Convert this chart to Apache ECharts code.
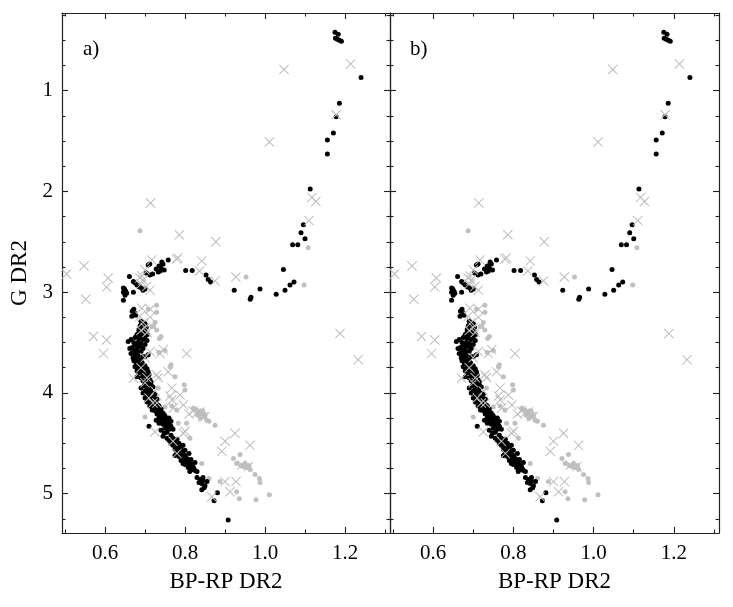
<!DOCTYPE html>
<html>
<head>
<meta charset="utf-8">
<script src="https://cdn.jsdelivr.net/npm/echarts@6/dist/echarts.min.js"></script>
<style>
  html, body { margin: 0; padding: 0; background: #fff; }
  #main { width: 733px; height: 607px; }
</style>
</head>
<body>
<div id="main"></div>
<script>
// axis ranges and ticks
var xMin = 0.4925, xMax = 1.3125;
var yMin = 0.23, yMax = 5.39;
var xMajor = [0.6, 0.8, 1.0, 1.2];
var xMinor = [0.5, 0.7, 0.9, 1.1, 1.3];
var yMajor = [1, 2, 3, 4, 5];
var yMinor = [0.25, 0.5, 0.75, 1.25, 1.5, 1.75, 2.25, 2.5, 2.75, 3.25, 3.5, 3.75, 4.25, 4.5, 4.75, 5.25];

// black dots: [BP-RP, G]
var blackStars = [
  [1.175,0.42],[1.183,0.44],[1.176,0.48],[1.181,0.49],[1.186,0.50],[1.191,0.51],
  [1.240,0.87],[1.186,1.125],[1.178,1.26],[1.171,1.42],[1.156,1.49],[1.156,1.63],
  [1.113,1.976],[1.096,2.33],[1.090,2.41],[1.100,2.47],[1.069,2.53],[1.082,2.53],
  [1.046,2.775],[1.0725,2.90],[1.0625,2.93],[1.050,2.98],[1.028,3.02],[0.9875,2.97],
  [0.965,3.05],[0.963,3.07],[0.923,2.98],[0.864,2.90],[0.858,2.875],[0.8525,2.83],
  [0.818,2.785],[0.8017,2.785],[0.758,2.68],
  [0.745,2.72],[0.742,2.70],[0.735,2.74],[0.74,2.76],[0.748,2.78],[0.733,2.80],[0.738,2.79],[0.728,2.77],
  [0.708,2.73],[0.712,2.72],[0.703,2.81],[0.712,2.83],[0.719,2.82],[0.661,2.845],
  [0.671,2.895],[0.675,2.91],[0.68,2.93],[0.686,2.95],[0.692,2.96],[0.695,2.98],[0.70,2.97],
  [0.646,2.96],[0.649,2.97],[0.652,2.99],[0.646,3.0],[0.654,3.01],[0.65,3.03],[0.646,3.08],[0.671,3.0],
  [0.671,3.18],[0.675,3.21],[0.667,3.24],[0.677,3.23],[0.672,3.17],[0.668,3.19],
  [0.69,3.29],[0.695,3.30],[0.70,3.31],[0.688,3.33],[0.697,3.34],[0.703,3.35],[0.692,3.36],[0.70,3.38],[0.685,3.39],[0.695,3.40],
  [0.695,3.32],[0.685,3.37],[0.705,3.42],
  [0.68,3.42],[0.69,3.43],[0.70,3.44],[0.675,3.45],[0.685,3.46],[0.695,3.47],[0.658,3.49],[0.672,3.50],[0.682,3.50],
  [0.665,3.47],[0.675,3.52],[0.705,3.48],[0.662,3.56],
  [0.69,3.51],[0.70,3.52],[0.678,3.53],[0.688,3.54],[0.668,3.55],[0.695,3.56],[0.68,3.57],[0.672,3.58],[0.69,3.59],
  [0.665,3.61],[0.675,3.62],[0.683,3.63],[0.67,3.65],[0.68,3.66],[0.688,3.67],[0.672,3.68],[0.684,3.69],[0.693,3.70],
  [0.68,3.60],[0.695,3.64],[0.69,3.69],[0.708,3.62],[0.70,3.64],
  [0.678,3.71],[0.69,3.72],[0.70,3.73],[0.682,3.74],[0.695,3.75],[0.705,3.76],[0.688,3.77],[0.698,3.78],[0.708,3.79],[0.685,3.80],
  [0.675,3.74],[0.68,3.78],[0.71,3.82],[0.68,3.84],
  [0.695,3.81],[0.70,3.83],[0.69,3.85],[0.705,3.86],[0.712,3.87],[0.695,3.88],[0.70,3.90],[0.71,3.91],[0.715,3.92],
  [0.715,3.89],[0.69,3.95],[0.72,3.94],[0.695,4.0],[0.725,4.01],
  [0.698,3.93],[0.705,3.95],[0.714,3.96],[0.70,3.98],[0.71,3.99],[0.718,4.00],
  [0.705,4.02],[0.715,4.03],[0.722,4.04],[0.71,4.06],[0.72,4.07],[0.728,4.08],[0.715,4.10],[0.725,4.11],[0.732,4.12],
  [0.70,4.05],[0.73,4.06],[0.705,4.09],[0.735,4.13],[0.712,4.13],
  [0.72,4.14],[0.73,4.15],[0.74,4.16],[0.718,4.17],[0.726,4.18],[0.735,4.19],[0.745,4.20],
  [0.73,4.21],[0.74,4.22],[0.75,4.23],[0.735,4.24],[0.745,4.25],[0.755,4.26],[0.728,4.27],[0.74,4.28],[0.75,4.29],
  [0.748,4.22],[0.76,4.25],[0.738,4.26],[0.765,4.28],[0.735,4.30],
  [0.76,4.30],[0.745,4.31],[0.755,4.32],[0.71,4.33],[0.765,4.33],[0.75,4.35],[0.76,4.36],[0.74,4.37],[0.755,4.39],
  [0.77,4.36],[0.748,4.40],[0.78,4.46],[0.755,4.45],
  [0.745,4.43],[0.765,4.42],[0.77,4.45],[0.76,4.47],[0.775,4.49],[0.785,4.50],[0.77,4.52],[0.78,4.53],[0.79,4.54],
  [0.795,4.52],[0.765,4.50],[0.80,4.57],[0.81,4.60],[0.775,4.62],
  [0.775,4.56],[0.785,4.57],[0.795,4.58],[0.78,4.59],[0.79,4.61],[0.80,4.62],
  [0.785,4.63],[0.795,4.64],[0.805,4.65],[0.79,4.67],[0.80,4.68],[0.81,4.69],[0.815,4.70],[0.80,4.71],[0.812,4.72],
  [0.815,4.66],[0.825,4.69],[0.795,4.70],[0.822,4.75],[0.83,4.78],[0.812,4.78],
  [0.82,4.73],[0.808,4.74],[0.818,4.76],[0.825,4.77],
  [0.83,4.84],[0.838,4.86],[0.845,4.87],[0.835,4.89],[0.842,4.90],[0.85,4.92],[0.842,4.96],
  [0.845,4.84],[0.848,4.94],[0.855,4.88],
  [0.881,4.99],[0.8725,5.07],[0.908,5.26]
];

// light grey dots
var greyStars = [
  [0.6875,2.39],[0.9525,2.85],[1.0975,2.93],[1.108,2.56],
  [0.708,3.17],[0.729,3.13],[0.729,3.20],[0.721,3.34],[0.717,3.34],[0.729,3.375],[0.708,3.425],[0.736,3.46],[0.725,3.30],[0.74,3.44],
  [0.735,3.60],[0.75,3.58],
  [0.7625,3.74],[0.765,3.72],[0.775,3.84],[0.733,3.95],[0.80,3.97],[0.798,3.92],[0.779,4.17],[0.804,4.30],[0.70,4.24],[0.767,4.13],[0.821,4.15],
  [0.829,4.17],[0.835,4.19],[0.84,4.21],[0.846,4.20],[0.85,4.23],[0.838,4.25],[0.854,4.27],[0.832,4.22],[0.844,4.18],
  [0.75,4.14],[0.783,4.30],[0.8125,4.45],[0.875,4.32],[0.86,4.28],
  [0.842,4.70],[0.86,4.85],[0.8875,4.88],[0.921,4.65],[0.9375,4.61],
  [0.929,4.70],[0.94,4.72],[0.95,4.70],[0.955,4.74],[0.96,4.72],[0.9625,4.76],[0.945,4.73],
  [0.975,4.81],[0.986,4.85],[0.9875,4.89],[1.011,5.01],[0.9775,5.06],[0.936,5.05],[0.929,4.98]
];

// light grey crosses
var crossStars = [
  [1.214,0.735],[1.0475,0.79],[1.011,1.51],[1.178,1.24],[1.117,2.06],[1.127,2.10],[1.11,2.29],
  [0.714,2.115],[0.786,2.43],[0.877,2.50],[0.7825,2.66],[0.779,2.67],[0.842,2.69],[0.836,2.79],[0.875,2.89],[0.927,2.85],
  [0.717,2.68],[0.70,2.78],[0.6875,2.86],[0.692,2.84],[0.695,2.88],[0.704,2.945],[0.7125,2.98],[0.69,2.92],
  [0.504,2.82],[0.5475,2.74],[0.608,2.86],[0.604,2.95],[0.552,3.07],
  [0.6917,3.16],[0.6875,3.24],[0.713,3.17],[0.713,3.25],
  [1.1875,3.41],[1.233,3.67],
  [0.571,3.44],[0.604,3.475],[0.596,3.61],[0.804,3.61],[0.7125,3.59],[0.7375,3.61],[0.746,3.57],[0.758,3.79],
  [0.729,3.82],[0.733,3.85],[0.671,3.855],[0.767,3.95],[0.7625,4.03],[0.767,4.07],[0.7875,4.02],[0.796,4.12],
  [0.771,4.15],[0.829,4.2],[0.8375,4.19],[0.85,4.235],[0.81,4.21],[0.82,4.18],[0.845,4.24],
  [0.725,4.385],[0.796,4.40],[0.80,4.38],[0.90,4.48],[0.925,4.40],[0.9625,4.52],[0.892,4.58],
  [0.90,4.88],[0.9275,4.88],[0.9125,4.98],[0.8667,5.03],[0.9417,4.715],[0.9583,4.73],
  [0.695,3.30],[0.70,3.35],[0.705,3.40],[0.69,3.38],[0.70,3.65],[0.69,3.75],[0.705,3.85],[0.70,3.90],
  [0.71,4.05],[0.72,4.10],[0.78,4.60],[0.77,4.48],[0.725,3.98],[0.73,4.10]
];

var panelNames = ['a)', 'b)'];

var FONT = 'Liberation Serif';
var AXIS_COLOR = '#222';
var CROSS = 'path://M0,0.7L0.7,0L5,4.3L9.3,0L10,0.7L5.7,5L10,9.3L9.3,10L5,5.7L0.7,10L0,9.3L4.3,5Z';

var grids = [
  { left: 62, top: 13, width: 328, height: 520 },
  { left: 390, top: 13, width: 329, height: 520 }
];
grids.forEach(function (g) { g.containLabel = false; g.outerBoundsMode = 'none'; });

var xAxes = [], yAxes = [], series = [];

// one axis per tick family, stacked on the same edge
function xAxisFor(gi, pos, vals, len, line, labels) {
  return {
    type: 'value', gridIndex: gi, position: pos, min: xMin, max: xMax,
    axisLine: { show: line, onZero: false, lineStyle: { color: AXIS_COLOR, width: 1.2 } },
    axisTick: { show: true, inside: true, length: len, customValues: vals, lineStyle: { color: AXIS_COLOR, width: 1.1 } },
    axisLabel: labels ? { show: true, customValues: vals, margin: 10, color: '#000', fontFamily: FONT, fontSize: 21,
      formatter: function (v) { return v.toFixed(1); } } : { show: false },
    splitLine: { show: false },
    name: labels ? 'BP-RP DR2' : '', nameLocation: 'middle', nameGap: 37,
    nameTextStyle: { color: '#000', fontFamily: FONT, fontSize: 23 }
  };
}
function yAxisFor(gi, pos, vals, len, line, labels, named) {
  return {
    type: 'value', gridIndex: gi, position: pos, min: yMin, max: yMax, inverse: true,
    axisLine: { show: line, onZero: false, lineStyle: { color: AXIS_COLOR, width: 1.2 } },
    axisTick: { show: true, inside: true, length: len, customValues: vals, lineStyle: { color: AXIS_COLOR, width: 1.1 } },
    axisLabel: labels ? { show: true, customValues: vals, margin: 9, color: '#000', fontFamily: FONT, fontSize: 21 } : { show: false },
    splitLine: { show: false },
    name: named ? 'G DR2' : '', nameLocation: 'middle', nameGap: 31,
    nameTextStyle: { color: '#000', fontFamily: FONT, fontSize: 23 }
  };
}

for (var gi = 0; gi < 2; gi++) {
  var xBase = xAxes.length, yBase = yAxes.length;
  xAxes.push(xAxisFor(gi, 'bottom', xMajor, 6, true, true));
  xAxes.push(xAxisFor(gi, 'bottom', xMinor, 3.5, false, false));
  xAxes.push(xAxisFor(gi, 'top', xMajor, 6, true, false));
  xAxes.push(xAxisFor(gi, 'top', xMinor, 3.5, false, false));
  yAxes.push(yAxisFor(gi, 'left', yMajor, 6, true, gi === 0, gi === 0));
  yAxes.push(yAxisFor(gi, 'left', yMinor, 3.5, false, false, false));
  yAxes.push(yAxisFor(gi, 'right', yMajor, 6, true, false, false));
  yAxes.push(yAxisFor(gi, 'right', yMinor, 3.5, false, false, false));

  series.push({
    type: 'scatter', xAxisIndex: xBase, yAxisIndex: yBase, data: greyStars,
    symbol: 'circle', symbolSize: 5, itemStyle: { color: '#c0c0c0', opacity: 1 }, silent: true
  });
  series.push({
    type: 'scatter', xAxisIndex: xBase, yAxisIndex: yBase, data: blackStars,
    symbol: 'circle', symbolSize: 5, itemStyle: { color: '#000', opacity: 1 }, silent: true
  });
  series.push({
    type: 'scatter', xAxisIndex: xBase, yAxisIndex: yBase, data: crossStars,
    symbol: CROSS, symbolSize: 10, itemStyle: { color: '#bcbcbc', opacity: 1 }, silent: true
  });
}

var chart = echarts.init(document.getElementById('main'));
chart.setOption({
  animation: false,
  backgroundColor: '#fff',
  title: [
    { text: panelNames[0], left: 78, top: 34, textStyle: { fontFamily: FONT, fontSize: 21, fontWeight: 'normal', color: '#000' } },
    { text: panelNames[1], left: 405, top: 34, textStyle: { fontFamily: FONT, fontSize: 21, fontWeight: 'normal', color: '#000' } }
  ],
  grid: grids,
  xAxis: xAxes,
  yAxis: yAxes,
  series: series
});
</script>
</body>
</html>
